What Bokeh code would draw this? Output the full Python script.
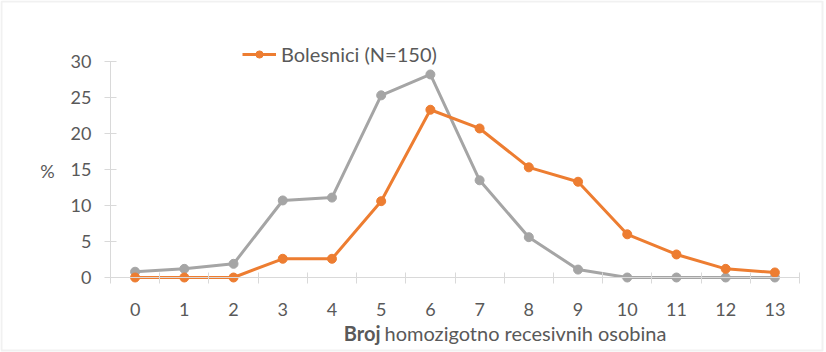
from bokeh.plotting import figure
from bokeh.models import (Range1d, FixedTicker, Legend, LegendItem, Label,
                          BoxAnnotation, LinearAxis)
from bokeh.embed import file_html
from bokeh.resources import INLINE

categories = list(range(14))
tick_labels = [str(c) for c in categories]
bolesnici = [0, 0, 0, 2.6, 2.6, 10.6, 23.3, 20.7, 15.3, 13.3, 6.0, 3.2, 1.2, 0.7]
kontrole = [0.8, 1.2, 1.9, 10.7, 11.1, 25.3, 28.2, 13.5, 5.6, 1.1, 0, 0, 0, 0]
y_ticks = [0, 5, 10, 15, 20, 25, 30]
legend_label = "Bolesnici (N=150)"
x_title_bold = "Broj"
x_title_rest = "homozigotno recesivnih osobina"
y_title = "%"

ORANGE = "#ED7D31"
GRAY = "#A5A5A5"
AXIS = "#D9D9D9"
TEXT = "#595959"
FONT = "Lato"

W, H = 826, 352
# plot area in pixels (left, right, top, bottom)
PL, PR, PT, PB = 110, 799, 61, 277
x0, x1 = categories[0] - 0.5, categories[-1] + 0.5
y0, y1 = y_ticks[0], y_ticks[-1]
sx = (PR - PL) / (x1 - x0)
sy = (PB - PT) / (y1 - y0)
x_range = Range1d(x0 - PL / sx, x1 + (W - PR) / sx)
y_range = Range1d(y0 - (H - PB) / sy, y1 + PT / sy)

p = figure(width=W, height=H, x_range=x_range, y_range=y_range,
           output_backend="svg", toolbar_location=None, min_border=0,
           x_axis_location=None, y_axis_location=None)
p.outline_line_color = None
p.xgrid.visible = False
p.ygrid.visible = False

yaxis = LinearAxis(ticker=FixedTicker(ticks=y_ticks, minor_ticks=[]),
                   fixed_location=x0, bounds=(y0, y1))
yaxis.axis_line_color = AXIS
yaxis.major_tick_line_color = AXIS
yaxis.major_tick_in = 6
yaxis.major_tick_out = 6
yaxis.minor_tick_line_color = None
yaxis.major_label_text_font = FONT
yaxis.major_label_text_font_size = "18px"
yaxis.major_label_text_color = TEXT
yaxis.major_label_standoff = 13
p.add_layout(yaxis, "left")

xaxis = LinearAxis(ticker=FixedTicker(ticks=categories,
                                      minor_ticks=[c - 0.5 for c in categories] + [x1]),
                   fixed_location=y0, bounds=(x0, x1))
xaxis.major_label_overrides = {c: t for c, t in zip(categories, tick_labels)}
xaxis.axis_line_color = AXIS
xaxis.major_tick_line_color = None
xaxis.major_tick_in = 0
xaxis.major_tick_out = 0
xaxis.minor_tick_line_color = AXIS
xaxis.minor_tick_in = 5
xaxis.minor_tick_out = 6
xaxis.major_label_text_font = FONT
xaxis.major_label_text_font_size = "18px"
xaxis.major_label_text_color = TEXT
xaxis.major_label_standoff = 19
p.add_layout(xaxis, "below")

lk = p.line(categories, kontrole, line_color=GRAY, line_width=3)
sk = p.scatter(categories, kontrole, size=9, fill_color=GRAY, line_color=GRAY)
lb = p.line(categories, bolesnici, line_color=ORANGE, line_width=3)
sb = p.scatter(categories, bolesnici, size=9, fill_color=ORANGE, line_color=ORANGE)

legend = Legend(items=[LegendItem(label=legend_label, renderers=[lb, sb])],
                location=(242, H - 66), padding=0, spacing=0, margin=0,
                border_line_color=None, background_fill_alpha=0,
                glyph_width=34, glyph_height=18, label_height=18, label_standoff=5,
                label_text_font=FONT, label_text_font_size="20px", label_text_color=TEXT)
p.add_layout(legend)

p.add_layout(Label(x=x0 - (PL - 47) / sx, y=(PB - 170) / sy, text=y_title,
                   text_align="center", text_baseline="middle",
                   text_font=FONT, text_font_size="18px", text_color=TEXT))
p.add_layout(Label(x=x0 + (380 - PL) / sx, y=-(332 - PB) / sy, text=x_title_bold,
                   text_align="right", text_baseline="middle",
                   text_font=FONT, text_font_size="20px", text_font_style="bold", text_color=TEXT))
p.add_layout(Label(x=x0 + (384 - PL) / sx, y=-(332 - PB) / sy, text=x_title_rest,
                   text_align="left", text_baseline="middle",
                   text_font=FONT, text_font_size="20px", text_color=TEXT))

p.add_layout(BoxAnnotation(left=1, right=822, top=1, bottom=350,
                           left_units="canvas", right_units="canvas",
                           top_units="canvas", bottom_units="canvas",
                           fill_alpha=0, line_color="#D0D0D0", line_width=2))

open("out.html", "w").write(file_html(p, INLINE))
